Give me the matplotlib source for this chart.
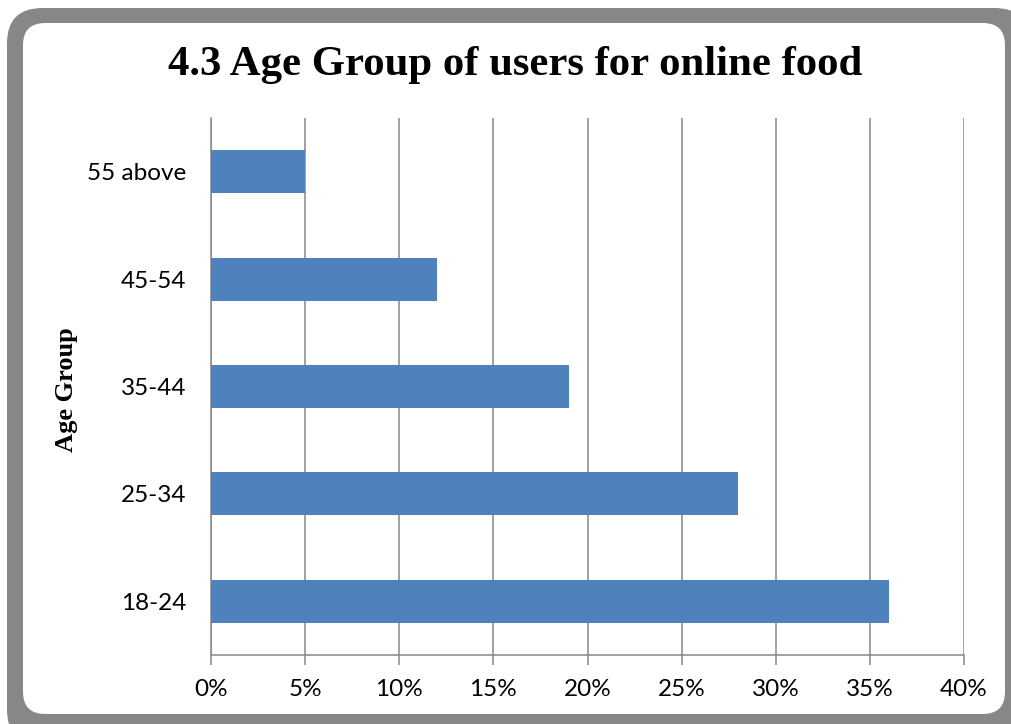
import matplotlib
matplotlib.use("Agg")
import matplotlib.pyplot as plt
from matplotlib.patches import FancyBboxPatch
from matplotlib.ticker import FuncFormatter, MultipleLocator

categories = ["18-24", "25-34", "35-44", "45-54", "55 above"]
values = [36, 28, 19, 12, 5]
title = "4.3 Age Group of users for online food"
ylabel = "Age Group"

W, H = 1011, 724
fig = plt.figure(figsize=(W / 100, H / 100), dpi=100)

# frame
outer = FancyBboxPatch((7 / W, 1 - 745 / H), (1030 - 7) / W, (745 - 8) / H,
                       boxstyle="round,pad=0,rounding_size=0.035",
                       transform=fig.transFigure, facecolor="#878787",
                       edgecolor="none", zorder=-2, mutation_aspect=W / H)
fig.patches.append(outer)
inner = FancyBboxPatch((23 / W, 1 - 714 / H), (1005 - 23) / W, (714 - 23) / H,
                       boxstyle="round,pad=0,rounding_size=0.022",
                       transform=fig.transFigure, facecolor="white",
                       edgecolor="none", zorder=-1, mutation_aspect=W / H)
fig.patches.append(inner)

ax = fig.add_axes([211 / W, 1 - 655 / H, 753 / W, 537 / H])
ax.set_zorder(2)
ax.set_facecolor("none")
y = range(len(categories))
ax.barh(y, values, height=0.4, color="#4F81BD", zorder=3)
ax.set_xlim(0, 40)
ax.set_ylim(-0.5, len(categories) - 0.5)
ax.set_yticks(list(y))
ax.set_yticklabels(categories)
ax.xaxis.set_major_locator(MultipleLocator(5))
ax.xaxis.set_major_formatter(FuncFormatter(lambda v, p: f"{int(v)}%"))
ax.grid(axis="x", color="#888888", linewidth=1.1, zorder=0)
ax.set_axisbelow(True)
for s in ["top", "right"]:
    ax.spines[s].set_visible(False)
for s in ["left", "bottom"]:
    ax.spines[s].set_color("#888888")
    ax.spines[s].set_linewidth(1.1)
ax.tick_params(axis="x", length=7, width=1.1, color="#888888", pad=10,
               labelsize=17.5)
ax.tick_params(axis="y", length=0, pad=18, labelsize=17.5)
for lab in ax.get_xticklabels() + ax.get_yticklabels():
    lab.set_family("Lato")

fig.text(515 / W, 1 - 65 / H, title, ha="center", va="center",
         fontsize=30.8, fontweight="bold", family="Liberation Serif")
fig.text(66 / W, 1 - 390 / H, ylabel, ha="center", va="center", rotation=90,
         fontsize=19, fontweight="bold", family="Liberation Serif")

fig.savefig("out.png", dpi=100)
